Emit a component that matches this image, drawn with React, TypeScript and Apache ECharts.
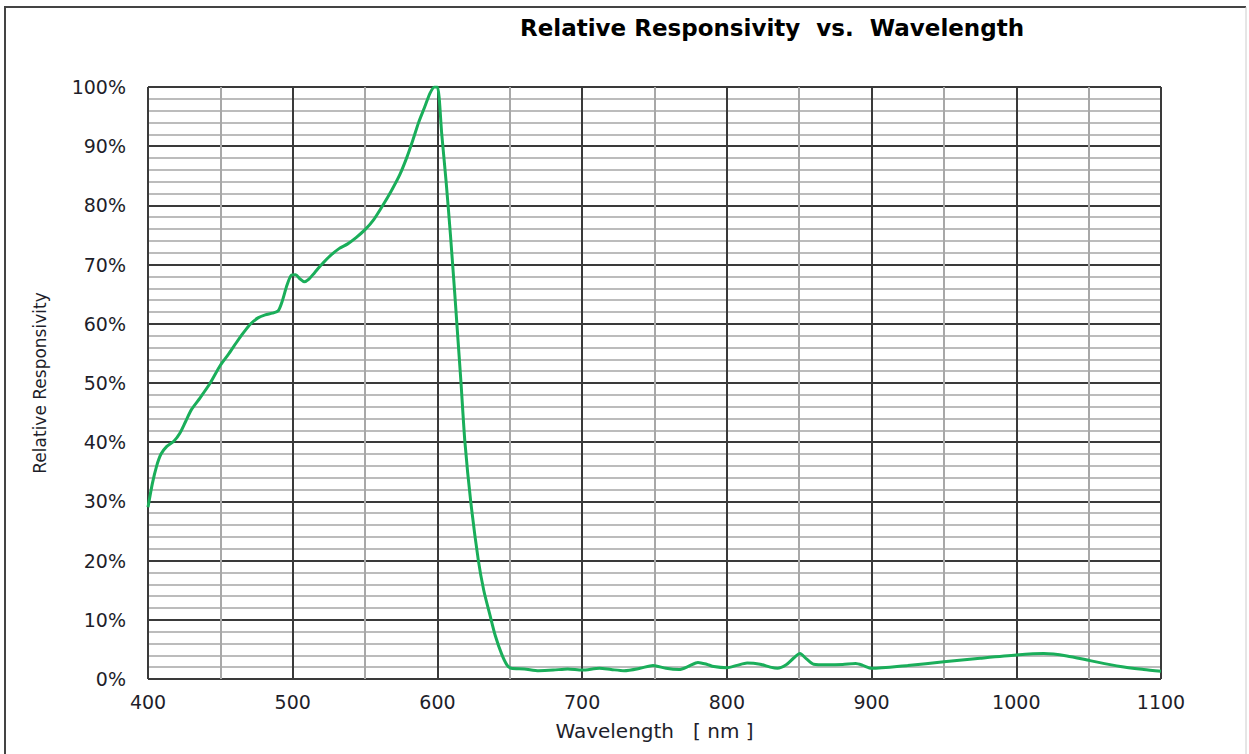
import React, { useEffect, useRef } from "react";
import * as echarts from "echarts";

const chartTitle = "Relative Responsivity  vs.  Wavelength";
const xAxisTitle = "Wavelength   [ nm ]";
const yAxisTitle = "Relative Responsivity";

// wavelength in nm
const wavelengths = [
  400, 403, 406, 409, 413, 418, 422, 426, 430, 436, 443, 450, 456, 461, 466, 471, 476, 481, 486, 490,
  493, 496, 499, 502, 505, 508, 511, 515, 520, 526, 532, 538, 544, 550, 556, 562, 568, 574, 579, 583,
  587, 591, 595, 598, 600, 603, 606, 609, 612, 614, 616.3, 619, 623, 628.3, 632, 636.4, 640, 644.4, 648, 651,
  660, 670, 680, 690, 700, 712, 720, 729, 740, 749, 758, 767, 774, 780, 786, 791, 800, 807, 814, 823,
  830, 835, 841, 846, 850.5, 855, 860, 869, 880, 889, 894, 900, 925, 950, 975, 1000, 1019, 1035, 1051, 1072,
  1088, 1100,
];

// relative responsivity in %
const responsivity = [
  29, 33, 36, 38, 39.3, 40.2, 41.5, 43.5, 45.5, 47.5, 50, 53, 55, 56.8, 58.5, 60, 61, 61.5, 61.8, 62.2,
  64, 66.5, 68.2, 68.3, 67.6, 67.1, 67.5, 68.6, 70, 71.5, 72.7, 73.5, 74.6, 75.9, 77.6, 79.9, 82.4, 85.2, 88.2, 91,
  94, 96.5, 99, 100, 100, 92, 84, 75, 65, 58, 50, 40, 30, 20, 15, 10.7, 7.3, 4.2, 2.4, 1.8,
  1.7, 1.4, 1.5, 1.7, 1.5, 1.8, 1.6, 1.4, 1.8, 2.3, 1.8, 1.6, 2.2, 2.8, 2.5, 2.1, 1.9, 2.3, 2.7, 2.5,
  2.0, 1.8, 2.4, 3.5, 4.3, 3.4, 2.5, 2.4, 2.45, 2.6, 2.3, 1.8, 2.3, 2.9, 3.5, 4.05, 4.3, 3.9, 3.1, 2.1,
  1.6, 1.3,
];

const xMin = 400;
const xMax = 1100;
const xStep = 100;
const yMin = 0;
const yMax = 100;
const yStep = 10;

export default function App() {
  const ref = useRef<HTMLDivElement>(null);

  useEffect(() => {
    if (!ref.current) return;
    const chart = echarts.init(ref.current, null, { renderer: "svg" });
    const points = wavelengths.map((w, i) => [w, responsivity[i]]);
    const labelFont = "DejaVu Sans";
    chart.setOption({
      animation: false,
      backgroundColor: "#ffffff",
      title: {
        text: chartTitle,
        left: 520,
        top: 16,
        padding: 0,
        textStyle: { fontFamily: labelFont, fontWeight: "bold", fontSize: 23, color: "#000" },
      },
      grid: { left: 148, right: 88, top: 87, bottom: 75, containLabel: false },
      xAxis: {
        type: "value",
        min: xMin,
        max: xMax,
        interval: xStep,
        name: xAxisTitle,
        nameLocation: "middle",
        nameGap: 42,
        nameTextStyle: { fontFamily: labelFont, fontSize: 20, color: "#1e1e2a" },
        axisLine: { show: false },
        axisTick: { show: false },
        axisLabel: {
          fontFamily: labelFont,
          fontSize: 19,
          color: "#1e1e2a",
          margin: 13,
          formatter: (v: number) => String(v),
        },
        splitLine: { show: true, lineStyle: { color: "#3a3a3a", width: 2 } },
        minorTick: { show: false, splitNumber: 2 },
        minorSplitLine: { show: true, lineStyle: { color: "#a8a8a8", width: 2 } },
      },
      yAxis: {
        type: "value",
        min: yMin,
        max: yMax,
        interval: yStep,
        name: yAxisTitle,
        nameLocation: "middle",
        nameGap: 100,
        nameTextStyle: { fontFamily: labelFont, fontSize: 17, color: "#1e1e2a" },
        axisLine: { show: false },
        axisTick: { show: false },
        axisLabel: { fontFamily: labelFont, fontSize: 19, color: "#1e1e2a", margin: 22, formatter: "{value}%" },
        splitLine: { show: true, lineStyle: { color: "#3a3a3a", width: 2 } },
        minorTick: { show: false, splitNumber: 5 },
        minorSplitLine: { show: true, lineStyle: { color: "#bcbcbc", width: 2 } },
      },
      series: [
        {
          type: "line",
          data: points,
          smooth: 0.25,
          symbol: "none",
          lineStyle: { color: "#1aae5a", width: 3 },
          z: 5,
        },
      ],
      graphic: [
        {
          type: "polyline",
          shape: { points: [[5, 760], [5, 7], [1246, 7]] },
          style: { stroke: "#444", lineWidth: 2, fill: null },
          silent: true,
        },
        {
          type: "line",
          shape: { x1: 1246, y1: 7, x2: 1246, y2: 760 },
          style: { stroke: "#cccccc", lineWidth: 1 },
          silent: true,
        },
      ],
    });
    return () => chart.dispose();
  }, []);

  return (
    <div
      ref={ref}
      style={{ position: "absolute", left: 0, top: 0, width: 1249, height: 754 }}
    />
  );
}
